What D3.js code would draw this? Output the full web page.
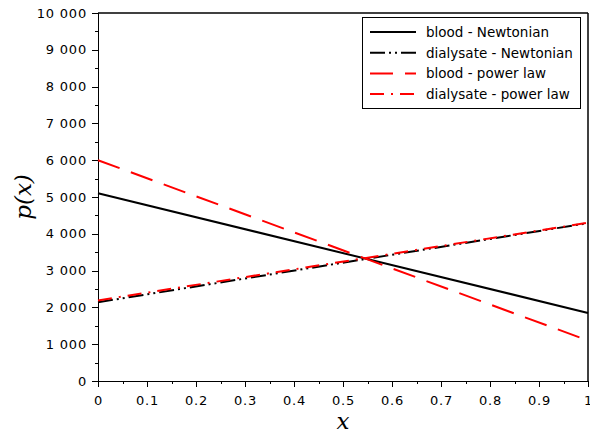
<!DOCTYPE html>
<html>
  <head>
    <meta charset="utf-8">
    <title>p(x)</title>
    <style>
      body { margin: 0; background: white; }
      .axis text { font: 13px "DejaVu Sans", sans-serif; letter-spacing: 0.8px; fill: #000; }
      .axis path, .axis line { stroke: #000; shape-rendering: crispEdges; }
      .axisLabel { font: italic 23px "DejaVu Serif", serif; fill: #000; }
      .legend text { font: 13.5px "DejaVu Sans", sans-serif; fill: #000; }
    </style>
  </head>
  <body>
  <svg id="chart" width="590" height="436"></svg>
  <script src="https://d3js.org/d3.v7.min.js"></script>
  <script>

  // x positions where each line is sampled
  var xs = [0, 1];

  var bloodNewtonian = [5100, 1850];
  var dialysateNewtonian = [2140, 4290];
  var bloodPowerLaw = [6000, 1100];
  var dialysatePowerLaw = [2190, 4300];

  var seriesNames = ["blood - Newtonian", "dialysate - Newtonian", "blood - power law", "dialysate - power law"];
  var seriesColors = ["#000000", "#000000", "#ff0000", "#ff0000"];
  var seriesDash = ["none", "15,4,2,4,2,4", "23,12", "14,7,2,7"];

  var yTicks = [0, 1000, 2000, 3000, 4000, 5000, 6000, 7000, 8000, 9000, 10000];
  var xTicks = [0, 0.1, 0.2, 0.3, 0.4, 0.5, 0.6, 0.7, 0.8, 0.9, 1];

  var series = [bloodNewtonian, dialysateNewtonian, bloodPowerLaw, dialysatePowerLaw];

  var margin = {top: 13, right: 2, bottom: 55, left: 98};
  var width = 590 - margin.left - margin.right;
  var height = 436 - margin.top - margin.bottom;

  var svg = d3.select("#chart");
  var g = svg.append("g").attr("transform", "translate(" + margin.left + "," + margin.top + ")");

  var x = d3.scaleLinear().domain([0, 1]).range([0, width]);
  var y = d3.scaleLinear().domain([0, 10000]).range([height, 0]);

  var fmt = d3.formatLocale({decimal: ".", thousands: " ", grouping: [3], currency: ["", ""]}).format(",");

  // minor ticks first so majors draw on top
  g.append("g").attr("class", "axis")
    .attr("transform", "translate(0," + height + ")")
    .call(d3.axisBottom(x).ticks(20).tickSize(3).tickFormat(""))
    .select(".domain").remove();
  g.append("g").attr("class", "axis")
    .call(d3.axisLeft(y).ticks(20).tickSize(3).tickFormat(""))
    .select(".domain").remove();

  g.append("g").attr("class", "axis")
    .attr("transform", "translate(0," + height + ")")
    .call(d3.axisBottom(x).tickValues(xTicks).tickSize(6).tickPadding(9).tickFormat(d3.format("~g")));

  g.append("g").attr("class", "axis")
    .call(d3.axisLeft(y).tickValues(yTicks).tickSize(6).tickPadding(5).tickFormat(fmt));

  // frame top and right
  g.append("line").attr("x1", 0).attr("x2", width).attr("y1", 0).attr("y2", 0)
    .attr("stroke", "#000").attr("stroke-width", 1.5);
  g.append("line").attr("x1", width).attr("x2", width).attr("y1", 0).attr("y2", height)
    .attr("stroke", "#000").attr("stroke-width", 1.5);

  var line = d3.line()
    .x(function(d, i) { return x(xs[i]); })
    .y(function(d) { return y(d); });

  series.forEach(function(s, k) {
    g.append("path")
      .datum(s)
      .attr("d", line)
      .attr("fill", "none")
      .attr("stroke", seriesColors[k])
      .attr("stroke-width", 2)
      .attr("stroke-dasharray", seriesDash[k]);
  });

  // axis labels
  svg.append("text").attr("class", "axisLabel")
    .attr("x", margin.left + width / 2).attr("y", 429)
    .attr("text-anchor", "middle").text("x");

  svg.append("text").attr("class", "axisLabel")
    .attr("transform", "translate(31," + (margin.top + height / 2) + ") rotate(-90)")
    .attr("text-anchor", "middle").text("p(x)");

  // legend
  var legend = svg.append("g").attr("class", "legend");
  legend.append("rect")
    .attr("x", 362.5).attr("y", 17.5).attr("width", 218).attr("height", 91)
    .attr("fill", "white").attr("stroke", "#000").attr("stroke-width", 1);

  seriesNames.forEach(function(name, k) {
    var ly = 32 + k * 20.7;
    legend.append("line")
      .attr("x1", 370).attr("x2", 416).attr("y1", ly).attr("y2", ly)
      .attr("stroke", seriesColors[k]).attr("stroke-width", 2)
      .attr("stroke-dasharray", seriesDash[k]);
    legend.append("text")
      .attr("x", 426).attr("y", ly + 5)
      .text(name);
  });

  </script>
  </body>
</html>
